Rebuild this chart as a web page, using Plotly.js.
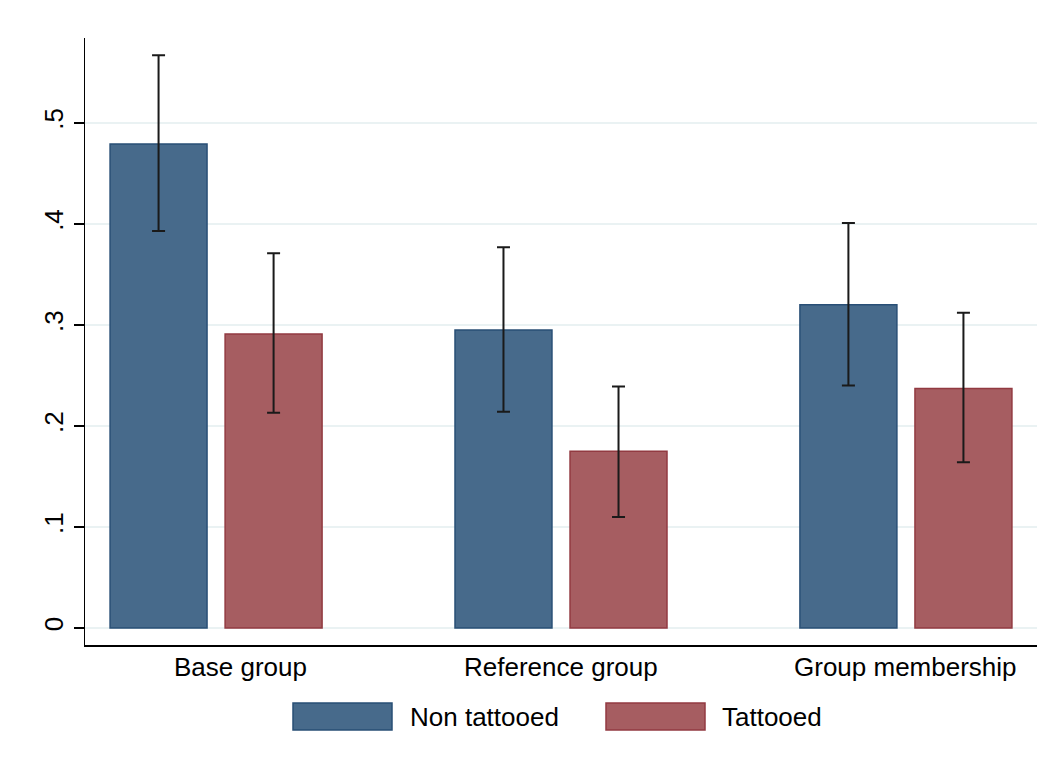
<!DOCTYPE html>
<html>
<head>
<meta charset="utf-8">
<script src="https://cdn.plot.ly/plotly-3.0.1.min.js"></script>
<style>html,body{margin:0;padding:0;background:#fff;}#chart{width:1060px;height:764px;}</style>
</head>
<body>
<div id="chart"></div>
<script>
const categories = ["Base group", "Reference group", "Group membership"];
const nonTattooed = [0.479, 0.295, 0.320];
const nonTattooedHi = [0.567, 0.377, 0.401];
const nonTattooedLo = [0.393, 0.214, 0.240];
const tattooed = [0.291, 0.175, 0.237];
const tattooedHi = [0.371, 0.239, 0.312];
const tattooedLo = [0.213, 0.110, 0.164];
const seriesNames = ["Non tattooed", "Tattooed"];
const yTickVals = [0, 0.1, 0.2, 0.3, 0.4, 0.5];
const yTickText = ["0", ".1", ".2", ".3", ".4", ".5"];
const labelShift = [24, 0, 0];

const blueFill = "#476a8b", blueLine = "#294f76";
const redFill = "#a65d61", redLine = "#923a41";
const FONT = "Liberation Sans, Arial, sans-serif";
const FS = 26;

function errTrace(name, vals, hi, lo, fill, line) {
  return {
    type: "bar", name: name, x: categories, y: vals,
    marker: {color: fill, line: {color: line, width: 1.5}},
    error_y: {type: "data", symmetric: false,
      array: hi.map((h, i) => h - vals[i]),
      arrayminus: lo.map((l, i) => vals[i] - l),
      color: "#1a1a1a", thickness: 2, width: 6.5},
    showlegend: false, hoverinfo: "x+y"
  };
}

const data = [
  errTrace(seriesNames[0], nonTattooed, nonTattooedHi, nonTattooedLo, blueFill, blueLine),
  errTrace(seriesNames[1], tattooed, tattooedHi, tattooedLo, redFill, redLine)
];

const catLabels = categories.map((c, i) => ({
  xref: "x", yref: "paper", x: c, y: (645 - 667) / 607, xanchor: "center", yanchor: "middle",
  xshift: labelShift[i], text: c, showarrow: false, font: {family: FONT, size: FS, color: "#000"}
}));

const layout = {
  width: 1060, height: 764,
  margin: {l: 85, r: 23, t: 38, b: 119, pad: 0},
  paper_bgcolor: "#ffffff", plot_bgcolor: "#ffffff",
  font: {family: FONT, size: FS, color: "#000"},
  barmode: "group", bargap: 0.333, bargroupgap: 0.157,
  xaxis: {
    range: [-0.38, 2.38], showline: true, linecolor: "#000", linewidth: 1.5,
    ticks: "", showgrid: false, zeroline: false, showticklabels: false
  },
  yaxis: {
    range: [-0.0168, 0.584], showline: true, linecolor: "#000", linewidth: 1.5,
    ticks: "outside", ticklen: 10, tickwidth: 1.5, tickcolor: "#000",
    tickvals: yTickVals, ticktext: yTickText, tickangle: -90,
    showgrid: true, gridcolor: "#eaf2f3", gridwidth: 1.5, zeroline: false,
    tickfont: {family: FONT, size: FS, color: "#000"}
  },
  shapes: [
    {type: "rect", xref: "paper", yref: "paper", x0: (293-85)/952, x1: (392-85)/952,
     y0: (645-730)/607, y1: (645-703)/607, fillcolor: blueFill, line: {color: blueLine, width: 1.5}},
    {type: "rect", xref: "paper", yref: "paper", x0: (606-85)/952, x1: (705-85)/952,
     y0: (645-730)/607, y1: (645-703)/607, fillcolor: redFill, line: {color: redLine, width: 1.5}}
  ],
  annotations: catLabels.concat([
    {xref: "paper", yref: "paper", x: (408-85)/952, y: (645-717)/607, xanchor: "left", yanchor: "middle",
     text: seriesNames[0], showarrow: false, font: {family: FONT, size: FS, color: "#000"}},
    {xref: "paper", yref: "paper", x: (720-85)/952, y: (645-717)/607, xanchor: "left", yanchor: "middle",
     text: seriesNames[1], showarrow: false, font: {family: FONT, size: FS, color: "#000"}}
  ])
};

Plotly.newPlot("chart", data, layout, {displayModeBar: false, staticPlot: true});
</script>
</body>
</html>
